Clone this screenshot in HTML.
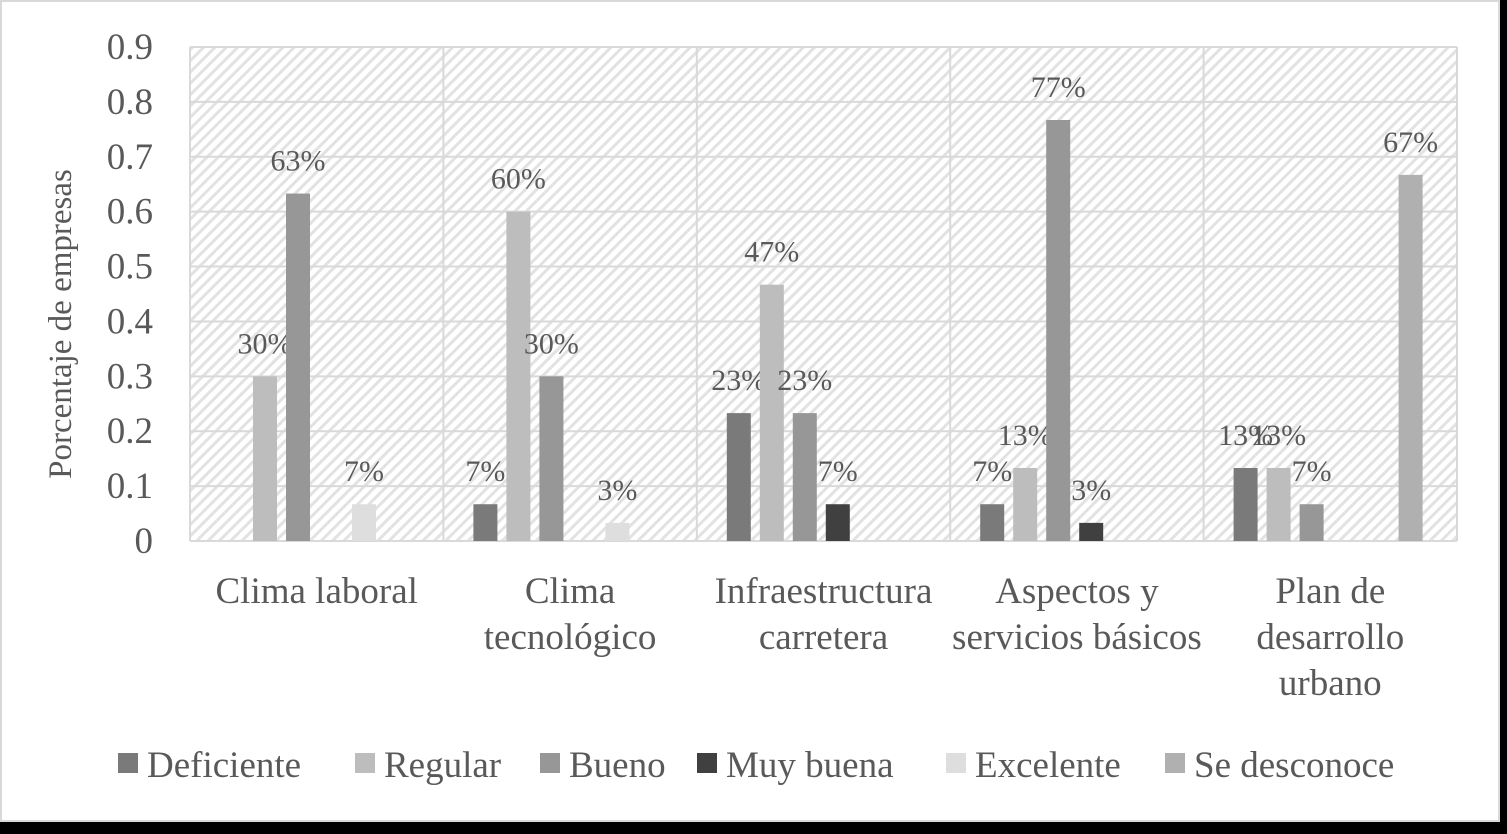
<!DOCTYPE html>
<html><head><meta charset="utf-8">
<style>
html,body{margin:0;padding:0;background:#000;}
#wrap{position:absolute;left:0;top:0;width:1500px;height:822px;background:#fff;border:2px solid #d9d9d9;box-sizing:border-box;}
svg{position:absolute;left:0;top:0;}
text{font-family:"Liberation Serif",serif;fill:#595959;}
</style></head>
<body>
<div id="wrap"></div>
<svg id="chart" width="1507" height="834">
<defs>
<pattern id="hatch" patternUnits="userSpaceOnUse" width="8" height="8" patternTransform="rotate(45)">
<rect width="8" height="8" fill="#fff"/>
<rect x="0" y="0" width="3" height="8" fill="#e2e2e2"/>
</pattern>
</defs>
</svg>
<script>
const categories=[["Clima laboral"],["Clima","tecnológico"],["Infraestructura","carretera"],["Aspectos y","servicios básicos"],["Plan de","desarrollo","urbano"]];
const seriesNames=["Deficiente","Regular","Bueno","Muy buena","Excelente","Se desconoce"];
const seriesColors=["#7a7a7a","#bdbdbd","#979797","#404040","#dedede","#b0b0b0"];
const deficiente=[0,0.067,0.233,0.067,0.133];
const regular=[0.30,0.60,0.467,0.133,0.133];
const bueno=[0.633,0.30,0.233,0.767,0.067];
const muyBuena=[0,0,0.067,0.033,0];
const excelente=[0.067,0.033,0,0,0];
const seDesconoce=[0,0,0,0,0.667];
const yTicks=[0,0.1,0.2,0.3,0.4,0.5,0.6,0.7,0.8,0.9];
const series=[deficiente,regular,bueno,muyBuena,excelente,seDesconoce];

const svg=document.getElementById('chart');
const NS='http://www.w3.org/2000/svg';
const L=190,R=1457,T=47,B=541,yMax=0.9;
const y=v=>B-(v/yMax)*(B-T);
const catW=(R-L)/categories.length;
const x=(c,s)=>L+c*catW+30+s*33;
function el(tag,attrs,parent){const e=document.createElementNS(NS,tag);for(const k in attrs)e.setAttribute(k,attrs[k]);(parent||svg).appendChild(e);return e;}

const bg=el('rect',{x:L,y:T,width:R-L,height:B-T,fill:'url(#hatch)'});



yTicks.forEach(t=>{
  const g=el('line',{x1:L,x2:R,y1:y(t),y2:y(t),stroke:'#d9d9d9','stroke-width':2});
  
  
  const lb=el('text',{x:153,y:y(t)+12,'text-anchor':'end','font-size':37});
  lb.textContent=String(t);
  
  
});
for(let c=0;c<=categories.length;c++){
  const v=el('line',{x1:L+c*catW,x2:L+c*catW,y1:T,y2:B,stroke:'#d9d9d9','stroke-width':2});
  
  
}
series.forEach((vals,s)=>{
  vals.forEach((v,c)=>{
    if(v<=0)return;
    const r=el('rect',{x:x(c,s),y:y(v),width:24,height:B-y(v),fill:seriesColors[s]});
    
    
    const t=el('text',{x:x(c,s)+12,y:y(v)-23,'text-anchor':'middle','font-size':30});
    t.textContent=Math.round(v*100)+'%';
    
    
  });
});
categories.forEach((lines,c)=>{
  lines.forEach((ln,i)=>{
    const t=el('text',{x:L+(c+0.5)*catW,y:603+i*46,'text-anchor':'middle','font-size':37});
    t.textContent=ln;
    
    
  });
});
const at=el('text',{x:0,y:0,'text-anchor':'middle','font-size':33,transform:'translate(71,'+((T+B)/2+30)+') rotate(-90)'});
at.textContent='Porcentaje de empresas';



const legX=[118,355,540,697,946,1165];
seriesNames.forEach((n,s)=>{
  const sw=el('rect',{x:legX[s],y:753,width:20,height:20,fill:seriesColors[s]});
  
  
  const t=el('text',{x:legX[s]+29,y:777,'font-size':37});
  t.textContent=n;
  
  
});
</script>
</body></html>
